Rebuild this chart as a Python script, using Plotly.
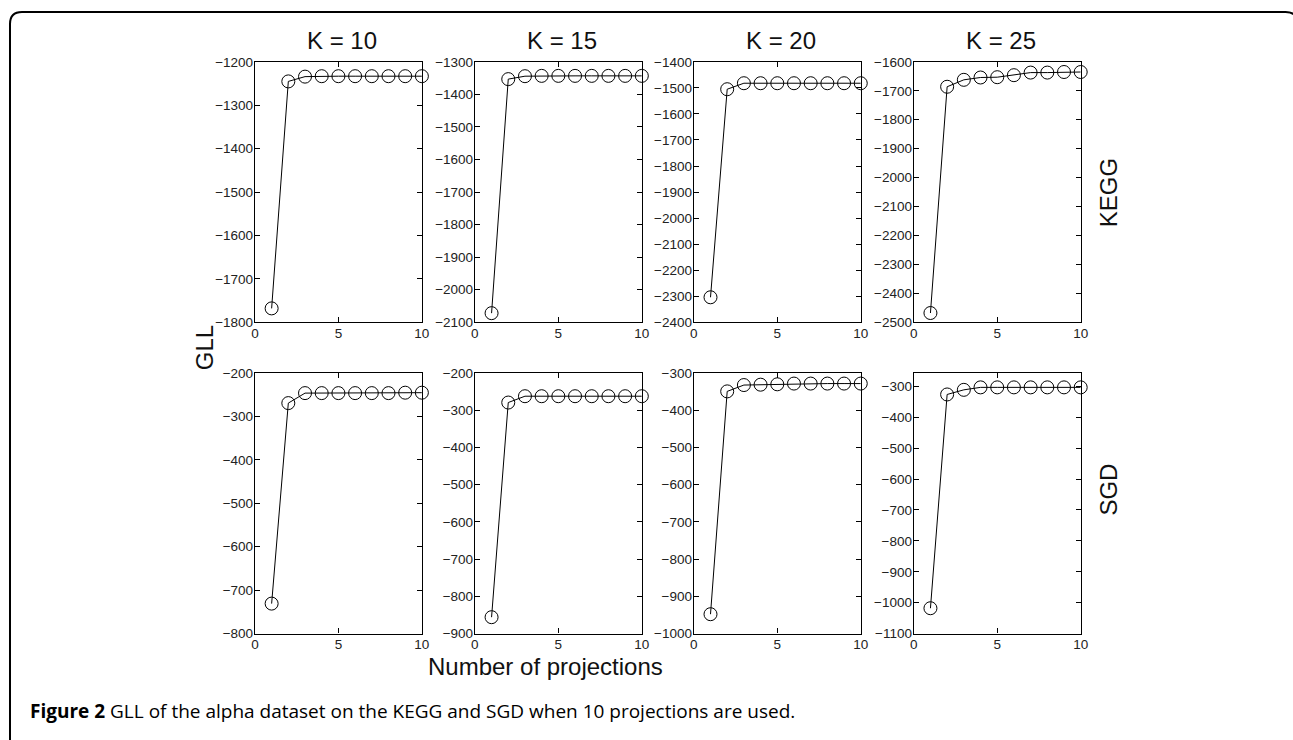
import plotly.graph_objects as go
from plotly.subplots import make_subplots

W, H = 1293, 740

projections = [1, 2, 3, 4, 5, 6, 7, 8, 9, 10]
k_labels = ["K = 10", "K = 15", "K = 20", "K = 25"]
row_labels = ["KEGG", "SGD"]

kegg_k10 = [-1768, -1245, -1234, -1233, -1233, -1233, -1233, -1233, -1233, -1233]
kegg_k15 = [-2072, -1353, -1344, -1343, -1343, -1343, -1343, -1343, -1343, -1343]
kegg_k20 = [-2304, -1505, -1482, -1482, -1482, -1482, -1482, -1482, -1482, -1482]
kegg_k25 = [-2468, -1686, -1662, -1654, -1653, -1646, -1637, -1637, -1635, -1635]
sgd_k10 = [-731, -269, -246, -246, -246, -246, -246, -246, -245, -245]
sgd_k15 = [-856, -279, -262, -262, -262, -262, -262, -262, -262, -262]
sgd_k20 = [-948, -349, -332, -331, -330, -328, -328, -328, -328, -328]
sgd_k25 = [-1018, -326, -311, -303, -303, -303, -303, -303, -303, -303]

kegg_ranges = [[-1800, -1200], [-2100, -1300], [-2400, -1400], [-2500, -1600]]
sgd_ranges = [[-800, -200], [-900, -200], [-1000, -300], [-1100, -257]]

series = [[kegg_k10, kegg_k15, kegg_k20, kegg_k25],
          [sgd_k10, sgd_k15, sgd_k20, sgd_k25]]
ranges = [kegg_ranges, sgd_ranges]

# pixel layout (target picture coordinates)
col_px = [(254, 421), (474, 641), (693, 860), (913, 1080)]
row_px = [(61, 322), (373, 634)]

# compensation for the capture transform observed
SX, BX = 0.991, 3.0
SY, BY = 0.982, 6.0

def px_x(x):
    return ((x - BX) / SX) / W

def px_y(y):
    return 1 - ((y - BY) / SY) / H

FONT = "Liberation Sans, Arial, Helvetica, sans-serif"
TITLE_SIZE = 24

fig = make_subplots(rows=2, cols=4)

for r in range(2):
    for c in range(4):
        fig.add_trace(go.Scatter(
            x=projections, y=series[r][c], mode="lines+markers",
            line=dict(color="black", width=1),
            marker=dict(symbol="circle-open", size=13, color="black",
                        line=dict(width=1, color="black")),
            cliponaxis=False, showlegend=False,
        ), row=r + 1, col=c + 1)
        fig.update_xaxes(
            domain=[px_x(col_px[c][0]), px_x(col_px[c][1])],
            range=[0, 10], tickvals=[0, 5, 10],
            ticks="inside", ticklen=5, tickwidth=1, tickcolor="black",
            showline=True, linecolor="black", linewidth=1.2, mirror="ticks",
            showgrid=False, zeroline=False,
            tickfont=dict(family=FONT, size=13.5, color="#222"),
            ticklabelstandoff=-2,
            row=r + 1, col=c + 1)
        fig.update_yaxes(
            domain=[px_y(row_px[r][1]), px_y(row_px[r][0])],
            range=ranges[r][c], tick0=0, dtick=100,
            ticks="inside", ticklen=5, tickwidth=1, tickcolor="black",
            showline=True, linecolor="black", linewidth=1.2, mirror="ticks",
            showgrid=False, zeroline=False,
            tickfont=dict(family=FONT, size=13.5, color="#222"),
            ticklabelstandoff=-2,
            row=r + 1, col=c + 1)

annotations = []
for c in range(4):
    annotations.append(dict(
        text=k_labels[c], x=px_x((col_px[c][0] + col_px[c][1]) / 2 + 4), y=px_y(40),
        xref="paper", yref="paper", showarrow=False,
        font=dict(family=FONT, size=TITLE_SIZE, color="#111"),
        xanchor="center", yanchor="middle"))

for r, yc in zip(range(2), [192, 490]):
    annotations.append(dict(
        text=row_labels[r], x=px_x(1108), y=px_y(yc),
        xref="paper", yref="paper", showarrow=False, textangle=-90,
        font=dict(family=FONT, size=TITLE_SIZE, color="#111"),
        xanchor="center", yanchor="middle"))

annotations.append(dict(
    text="GLL", x=px_x(203), y=px_y(347), xref="paper", yref="paper",
    showarrow=False, textangle=-90,
    font=dict(family=FONT, size=TITLE_SIZE, color="#111"),
    xanchor="center", yanchor="middle"))

annotations.append(dict(
    text="Number of projections", x=px_x(545), y=px_y(667),
    xref="paper", yref="paper", showarrow=False,
    font=dict(family=FONT, size=24, color="#111"),
    xanchor="center", yanchor="middle"))

annotations.append(dict(
    text="<b>Figure 2</b> GLL of the alpha dataset on the KEGG and SGD when 10 projections are used.",
    x=px_x(27), y=px_y(712), xref="paper", yref="paper", showarrow=False,
    font=dict(family="Open Sans, Noto Sans, sans-serif", size=19, color="black"),
    xanchor="left", yanchor="middle"))

# rounded frame border
rad = 12
x0, y0, x1, y1 = 9, 11, 1297, 770
path = (f"M {px_x(x0)},{px_y(y1)} L {px_x(x0)},{px_y(y0 + rad)} "
        f"Q {px_x(x0)},{px_y(y0)} {px_x(x0 + rad)},{px_y(y0)} "
        f"L {px_x(x1 - rad)},{px_y(y0)} "
        f"Q {px_x(x1)},{px_y(y0)} {px_x(x1)},{px_y(y0 + rad)} "
        f"L {px_x(x1)},{px_y(y1)}")

fig.update_layout(
    width=W, height=H,
    margin=dict(l=0, r=0, t=0, b=0),
    paper_bgcolor="white", plot_bgcolor="white",
    annotations=annotations,
    shapes=[dict(type="path", path=path, xref="paper", yref="paper",
                 line=dict(color="black", width=2))],
    showlegend=False,
)

fig.write_html(
    "out.html",
    config={"displayModeBar": False},
    post_script="document.body.style.margin='0px';document.body.style.overflow='hidden';",
)
